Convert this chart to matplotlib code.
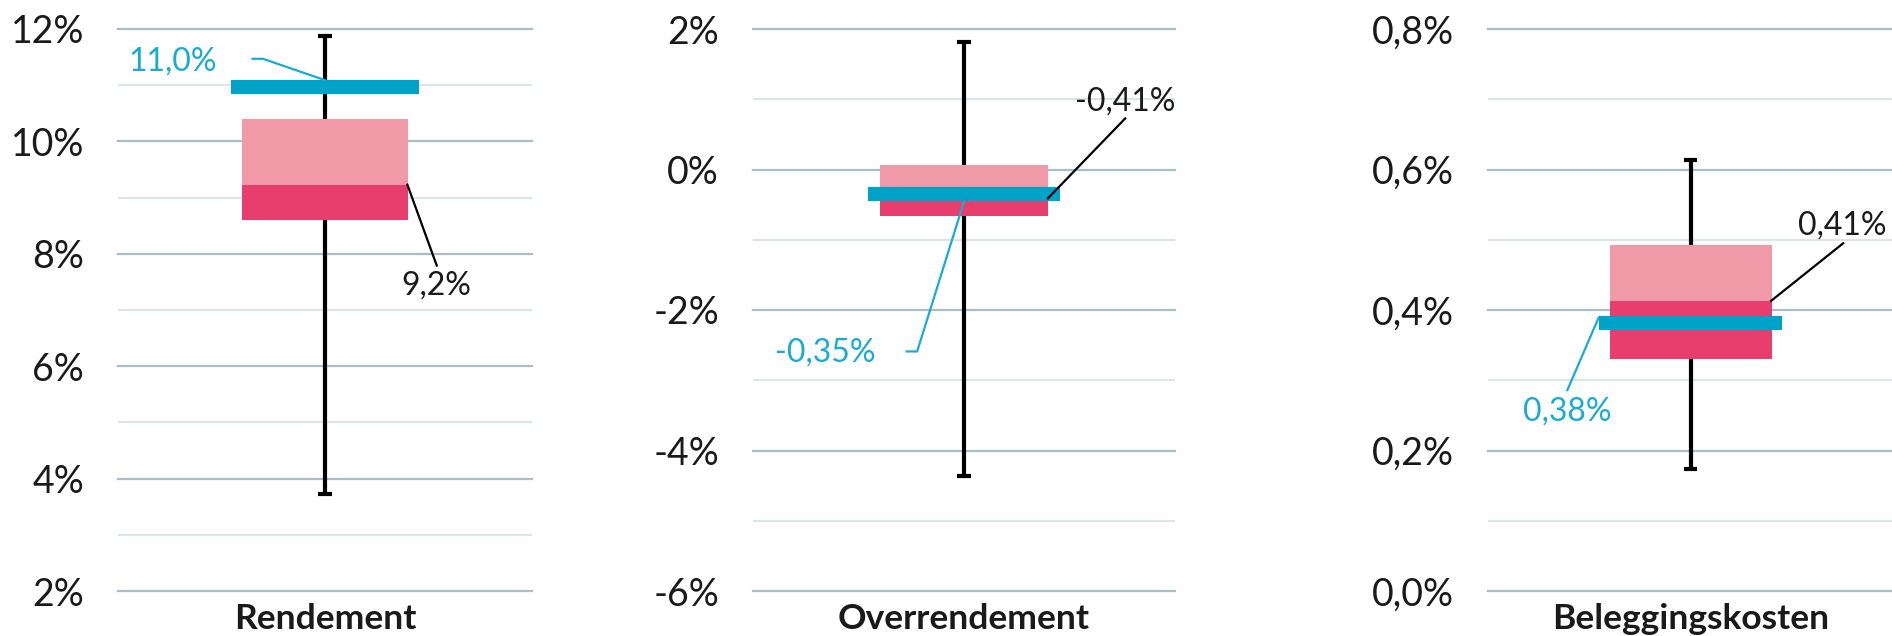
import matplotlib
matplotlib.use("Agg")
import matplotlib.pyplot as plt
from matplotlib.transforms import blended_transform_factory

plt.rcParams['font.family'] = ['Lato', 'DejaVu Sans']

# ---- data ----
categories = ["Rendement", "Overrendement", "Beleggingskosten"]
whisker_low = [3.73, -4.37, 0.173]
whisker_high = [11.88, 1.82, 0.613]
box_low = [8.605, -0.665, 0.330]
box_median = [9.23, -0.41, 0.413]
box_high = [10.40, 0.057, 0.493]
fund_value = [10.97, -0.35, 0.382]
median_labels = ["9,2%", "-0,41%", "0,41%"]
fund_labels = ["11,0%", "-0,35%", "0,38%"]
y_ranges = [(2, 12), (-6, 2), (0.0, 0.8)]
major_ticks = [[2, 4, 6, 8, 10, 12], [-6, -4, -2, 0, 2], [0.0, 0.2, 0.4, 0.6, 0.8]]
tick_labels = [["2%", "4%", "6%", "8%", "10%", "12%"],
               ["-6%", "-4%", "-2%", "0%", "2%"],
               ["0,0%", "0,2%", "0,4%", "0,6%", "0,8%"]]
minor_ticks = [[3, 5, 7, 9, 11], [-5, -3, -1, 1], [0.1, 0.3, 0.5, 0.7]]

# annotation label positions (data coords) and leader paths
fund_text_xy = [(-0.367, 11.43), (-0.329, -2.61), (-0.305, 0.256)]
fund_leader = [[(-0.175, 11.47), (-0.150, 11.47), (0.0, 11.09)],
               [(-0.136, -2.59), (-0.111, -2.59), (0.0, -0.457)],
               [(-0.304, 0.286), (-0.227, 0.389)]]
median_text_xy = [(0.269, 7.43), (0.383, 0.964), (0.375, 0.520)]
median_leader = [[(0.199, 9.23), (0.27, 7.79)],
                 [(0.199, -0.41), (0.382, 0.727)],
                 [(0.199, 0.413), (0.377, 0.495)]]

# ---- style ----
LIGHT_PINK = '#F09AA8'
DARK_PINK = '#E83E6E'
BLUE = '#00A3C8'
BLUE_TEXT = '#1AABD2'
MAJOR_GRID = '#A9BDC3'
MINOR_GRID = '#DCE6E9'
TEXT = '#1a1a1a'

W, H = 1892, 636
fig = plt.figure(figsize=(W / 100, H / 100), dpi=100)

axes_px = [(118, 532), (753, 1175), (1488, 1893)]
top_px, bot_px = 29, 591

for i in range(3):
    l, r = axes_px[i]
    ax = fig.add_axes([l / W, 1 - bot_px / H, (r - l) / W, (bot_px - top_px) / H])
    ax.set_xlim(-0.5, 0.5)
    ax.set_ylim(*y_ranges[i])
    for s in ax.spines.values():
        s.set_visible(False)
    ax.set_xticks([])
    ax.set_yticks(major_ticks[i])
    ax.set_yticklabels(tick_labels[i])
    ax.tick_params(axis='y', length=0, pad=24.5, labelsize=27, labelcolor=TEXT)
    for y in minor_ticks[i]:
        ax.axhline(y, color=MINOR_GRID, lw=1.6, zorder=0)
    for y in major_ticks[i]:
        ax.axhline(y, color=MAJOR_GRID, lw=1.6, zorder=0.5, clip_on=False)

    # whisker
    ax.plot([0, 0], [whisker_low[i], whisker_high[i]], color='black', lw=3, zorder=1,
            solid_capstyle='butt')
    for yv in (whisker_low[i], whisker_high[i]):
        ax.plot([-0.016, 0.016], [yv, yv], color='black', lw=3, zorder=1, solid_capstyle='butt')

    # box
    ax.bar(0, box_high[i] - box_median[i], bottom=box_median[i], width=0.4,
           color=LIGHT_PINK, zorder=2, linewidth=0)
    ax.bar(0, box_median[i] - box_low[i], bottom=box_low[i], width=0.4,
           color=DARK_PINK, zorder=2, linewidth=0)

    # fund value bar
    ax.plot([-0.227, 0.227], [fund_value[i], fund_value[i]], color=BLUE, lw=10.2,
            solid_capstyle='butt', zorder=3)

    # median label
    xs, ys = zip(*median_leader[i])
    ax.plot(xs, ys, color='black', lw=1.6, zorder=4, clip_on=False)
    ax.text(*median_text_xy[i], median_labels[i], ha='center', va='center',
            fontsize=23, color=TEXT, zorder=5, clip_on=False)

    # fund label
    xs, ys = zip(*fund_leader[i])
    ax.plot(xs, ys, color=BLUE_TEXT, lw=1.6, zorder=4, clip_on=False)
    ax.text(*fund_text_xy[i], fund_labels[i], ha='center', va='center',
            fontsize=23, color=BLUE_TEXT, zorder=5, clip_on=False)

    # category label
    trans = blended_transform_factory(ax.transData, ax.transAxes)
    ax.text(0, -(629 - bot_px) / (bot_px - top_px), categories[i], transform=trans,
            ha='center', va='baseline', fontsize=25.5, fontweight='bold', color=TEXT,
            clip_on=False)

fig.savefig('out.png', dpi=100)
